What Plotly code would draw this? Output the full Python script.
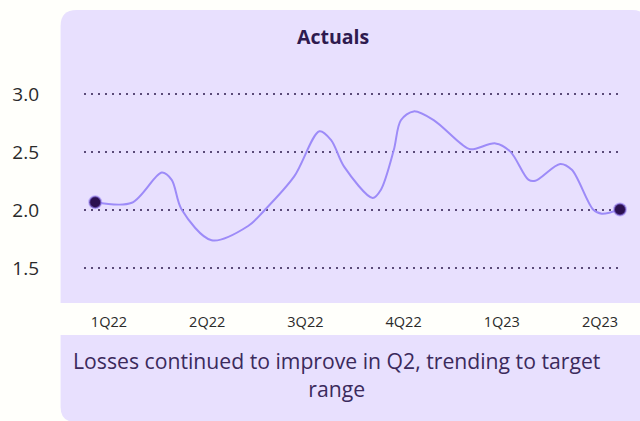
import plotly.graph_objects as go

# ---- data ----
quarter_labels = ["1Q22", "2Q22", "3Q22", "4Q22", "1Q23", "2Q23"]
quarter_ticks = [0, 1, 2, 3, 4, 5]

# position along the quarter axis (0 = 1Q22) and value
pos = [-0.14, 0.233, 0.538, 0.639, 0.74, 1.045, 1.417, 1.582, 1.886, 2.143,
       2.262, 2.394, 2.685, 2.769, 2.90, 2.972, 3.103, 3.306, 3.58, 3.682,
       3.935, 4.087, 4.27, 4.341, 4.594, 4.713, 4.929, 5.017, 5.203]
actuals = [2.067, 2.062, 2.323, 2.26, 2.004, 1.739, 1.862, 1.996, 2.289, 2.679,
           2.603, 2.374, 2.104, 2.175, 2.517, 2.774, 2.850, 2.774, 2.574, 2.523,
           2.574, 2.503, 2.261, 2.252, 2.397, 2.346, 2.004, 1.968, 2.004]

y_ticks = [1.5, 2.0, 2.5, 3.0]
y_tick_text = ["1.5", "2.0", "2.5", "3.0"]

title_text = "Actuals"
caption = "Losses continued to improve in Q2, trending to target<br>range"

# ---- layout geometry ----
W, H = 640, 421
L, R, T, B = 82, 20, 60, 118
PW, PH = W - L - R, H - T - B

def px(x):
    return (x - L) / PW

def py(y):
    return (H - B - y) / PH

def rounded_top(x0, x1, y0, y1, r):
    return (f"M {px(x0)},{py(y1)} L {px(x0)},{py(y0 + r)} "
            f"Q {px(x0)},{py(y0)} {px(x0 + r)},{py(y0)} "
            f"L {px(x1 - r)},{py(y0)} Q {px(x1)},{py(y0)} {px(x1)},{py(y0 + r)} "
            f"L {px(x1)},{py(y1)} Z")

def rounded_bottom_left(x0, x1, y0, y1, r):
    return (f"M {px(x0)},{py(y0)} L {px(x1)},{py(y0)} L {px(x1)},{py(y1)} "
            f"L {px(x0 + r)},{py(y1)} Q {px(x0)},{py(y1)} {px(x0)},{py(y1 - r)} Z")

PANEL = "#E8E0FE"
LINE = "#9D8BF8"
DARK = "#2E1A4F"

fig = go.Figure()
fig.add_trace(go.Scatter(
    x=pos, y=actuals, mode="lines",
    line=dict(color=LINE, width=2, shape="spline", smoothing=0.9),
    hoverinfo="skip", showlegend=False, cliponaxis=False,
))
fig.add_trace(go.Scatter(
    x=[pos[0], pos[-1]], y=[actuals[0], actuals[-1]], mode="markers",
    marker=dict(size=12, color="#2B1050",
                line=dict(color="rgba(150,125,245,0.55)", width=2)),
    hoverinfo="skip", showlegend=False, cliponaxis=False,
))

fig.update_layout(
    width=W, height=H,
    margin=dict(l=L, r=R, t=T, b=B),
    paper_bgcolor="#FFFFFB",
    plot_bgcolor="rgba(0,0,0,0)",
    font=dict(family="Open Sans, sans-serif", color="#333333"),
    shapes=[
        dict(type="path", xref="paper", yref="paper", layer="below",
             path=rounded_top(58.5, 648, 10, 303, 16),
             fillcolor=PANEL, line=dict(width=0)),
        dict(type="path", xref="paper", yref="paper", layer="below",
             path=rounded_bottom_left(58.5, 648, 335, 422, 15),
             fillcolor=PANEL, line=dict(width=0)),
    ],
    annotations=[
        dict(text=f"<b>{title_text}</b>", xref="paper", yref="paper",
             x=px(332), y=py(36), xanchor="center", yanchor="middle",
             showarrow=False, font=dict(size=19.5, color=DARK)),
        dict(text=caption, xref="paper", yref="paper",
             x=px(336), y=py(374.5), xanchor="center", yanchor="middle",
             showarrow=False, align="center",
             font=dict(size=21.2, color="#3B2A5C")),
    ],
)

fig.update_xaxes(
    range=[-0.254, 5.203], tickvals=quarter_ticks, ticktext=quarter_labels,
    showgrid=False, zeroline=False, showline=False, ticks="",
    tickfont=dict(size=14.5, color="#2A2A2A"), ticklabelstandoff=8,
)
fig.update_yaxes(
    range=[1.198, 3.293], tickvals=y_ticks, ticktext=y_tick_text,
    showgrid=True, gridcolor="#5A4A78", gridwidth=2, griddash="2px,5px",
    zeroline=False, showline=False, ticks="",
    tickfont=dict(size=19, color="#2A2A2A"), ticklabelstandoff=44,
)

fig.write_html(
    "out.html",
    config={"displayModeBar": False},
    post_script="document.body.style.margin='0';document.body.style.background='#FFFFFB';",
)
